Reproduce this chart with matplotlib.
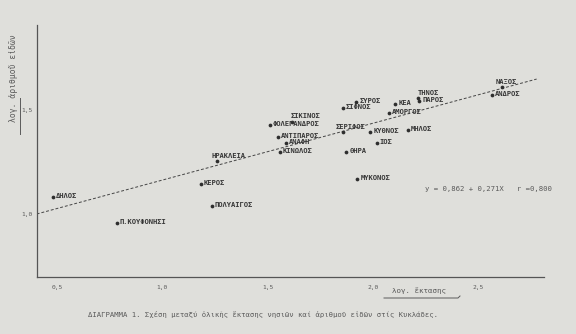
import matplotlib
matplotlib.use("Agg")
import matplotlib.pyplot as plt
from matplotlib.lines import Line2D

# ── Données (log έκτασης, log αριθμού ειδών) ─────────────────────────────
islands = ["ΔΗΛΟΣ", "Π.ΚΟΥΦΟΝΗΣΙ", "ΗΡΑΚΛΕΙΑ", "ΚΕΡΟΣ", "ΠΟΛΥΑΙΓΟΣ",
           "ΣΙΚΙΝΟΣ", "ΦΟΛΕΓΑΝΔΡΟΣ", "ΑΝΤΙΠΑΡΟΣ", "ΑΝΑΦΗ", "ΚΙΝΩΛΟΣ",
           "ΣΕΡΙΦΟΣ", "ΘΗΡΑ", "ΜΥΚΟΝΟΣ", "ΣΙΦΝΟΣ", "ΣΥΡΟΣ", "ΚΕΑ",
           "ΑΜΟΡΓΟΣ", "ΤΗΝΟΣ", "ΠΑΡΟΣ", "ΝΑΞΟΣ", "ΑΝΔΡΟΣ", "ΚΥΘΝΟΣ",
           "ΜΗΛΟΣ", "ΙΟΣ"]
log_area = [0.480, 0.784, 1.262, 1.183, 1.236,
            1.618, 1.512, 1.548, 1.586, 1.558,
            1.860, 1.874, 1.927, 1.859, 1.922, 2.107,
            2.076, 2.216, 2.221, 2.613, 2.565, 1.988,
            2.167, 2.020]
log_species = [1.080, 0.955, 1.255, 1.144, 1.040,
               1.441, 1.426, 1.372, 1.340, 1.300,
               1.394, 1.300, 1.170, 1.511, 1.540, 1.530,
               1.486, 1.558, 1.542, 1.612, 1.572, 1.393,
               1.404, 1.343]

# ευθεία παλινδρόμησης (άκρα όπως στο σχήμα)
fit_x = [0.404, 2.779]
fit_y = [1.000, 1.649]

xticks = [0.5, 1.0, 1.5, 2.0, 2.5]
xtick_labels = ["0,5", "1,0", "1,5", "2,0", "2,5"]
yticks = [1.0, 1.5]
ytick_labels = ["1,0", "1,5"]

# θέση ετικετών σε pixels (dx, dy)
label_pos = {
    "ΣΙΚΙΝΟΣ": (-2, 6), "ΗΡΑΚΛΕΙΑ": (-6, 5),
    "ΣΕΡΙΦΟΣ": (-8, 5), "ΤΗΝΟΣ": (0, 5),
    "ΝΑΞΟΣ": (-6, 5),
}

ink = "#363636"
grey = "#5a5a5a"
paper = "#dfdfdb"
mono = ["DejaVu Sans Mono", "DejaVu Sans"]

W, H = 576, 334
fig = plt.figure(figsize=(W / 100, H / 100), dpi=100)
fig.patch.set_facecolor(paper)

def px(x, y):
    return x / W, 1 - y / H

ax = fig.add_axes([36.7 / W, 1 - 277 / H, (560 - 36.7) / W, (277 - 20) / H])
ax.set_facecolor(paper)
ax.set_xlim(0.404, 2.890)
ax.set_ylim(0.697, 1.933)

for s in ["top", "right"]:
    ax.spines[s].set_visible(False)
ax.spines["left"].set_bounds(0.697, 1.909)
ax.spines["bottom"].set_bounds(0.404, 2.813)
for s in ["left", "bottom"]:
    ax.spines[s].set_color("#555555")
    ax.spines[s].set_linewidth(0.9)

ax.set_xticks(xticks)
ax.set_xticklabels(xtick_labels, family=mono, fontsize=4.5, color=grey)
ax.set_yticks(yticks)
ax.set_yticklabels(ytick_labels, family=mono, fontsize=4.5, color=grey)
ax.tick_params(axis="x", length=0, pad=6)
ax.tick_params(axis="y", length=0, pad=3)

ax.plot(fit_x, fit_y, color="#444444", lw=0.7, ls=(0, (3, 2)))
ax.plot(log_area, log_species, "o", color="#2e2e2e", ms=2.7, mec="none")

for name, xv, yv in zip(islands, log_area, log_species):
    dx, dy = label_pos.get(name, (3, 1))
    ax.annotate(name, (xv, yv), xytext=(dx, dy), textcoords="offset pixels",
                ha="left", va="center", family=mono, fontsize=5.1,
                fontweight="bold", color=ink)

# εξίσωση
fig.text(*px(425, 189), "y = 0,862 + 0,271X   r =0,800", family=mono,
         fontsize=5.2, color=grey, ha="left", va="center")

# άξονας y
fig.text(*px(14, 78), "λογ. ἀριθμοῦ εἰδῶν", family=mono, fontsize=5.8,
         color=grey, rotation=90, ha="center", va="center")
fig.add_artist(Line2D([20 / W, 20 / W], [1 - 98 / H, 1 - 134 / H],
                      color=grey, lw=0.7))

# άξονας x
fig.text(*px(419, 291), "λογ. ἔκτασης", family=mono, fontsize=5.4,
         color=grey, ha="center", va="center")
fig.add_artist(Line2D([384 / W, 458 / W, 460 / W],
                      [1 - 298 / H, 1 - 298 / H, 1 - 296 / H],
                      color=grey, lw=0.7))

# λεζάντα
fig.text(*px(88, 314),
         "ΔΙΑΓΡΑΜΜΑ 1. Σχέση μεταξύ ὀλικῆς ἔκτασης νησιῶν καί ἀριθμοῦ εἰδῶν στίς Κυκλάδες.",
         family=mono, fontsize=5.25, color=grey, ha="left", va="center")

fig.savefig("out.png", dpi=100, facecolor=paper)
